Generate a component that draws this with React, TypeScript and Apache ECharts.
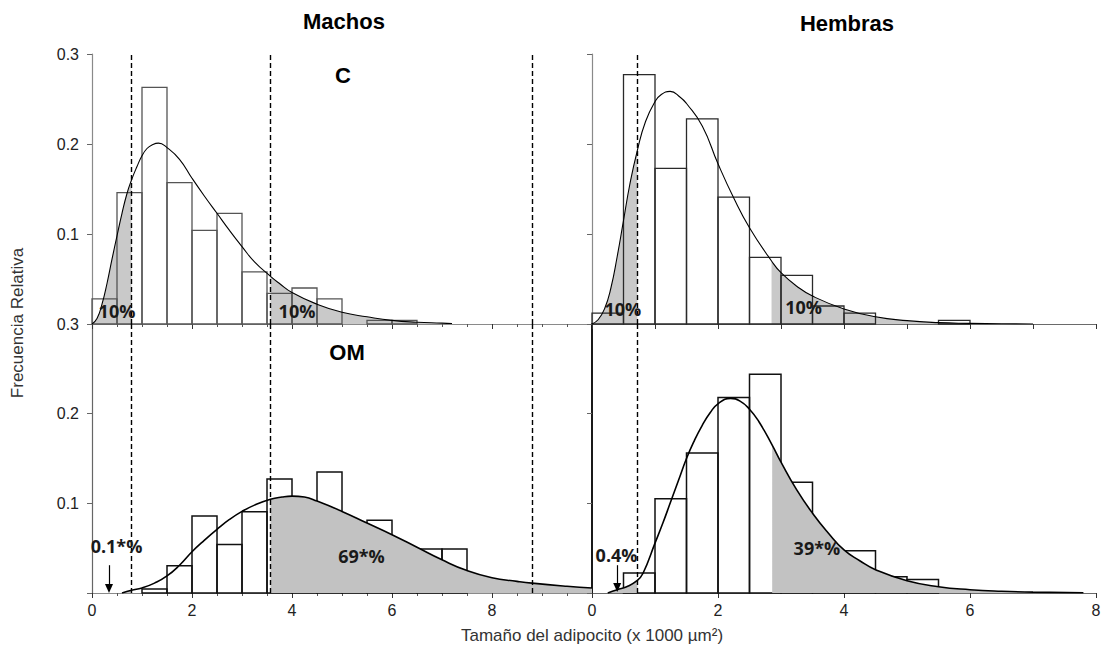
import React, { useEffect, useRef } from "react";
import * as echarts from "echarts";

// Histogram bins are 0.5 (x 1000 µm²) wide, starting at 0.
const BIN = 0.5;

// Relative frequency per bin
const machosCBars = [0.028, 0.146, 0.263, 0.157, 0.104, 0.123, 0.058, 0.034, 0.04, 0.028, 0, 0.004, 0.004];
const hembrasCBars = [0.012, 0.277, 0.173, 0.228, 0.141, 0.074, 0.054, 0.02, 0.012, 0, 0, 0.004];
const machosOMBars = [0, 0, 0.0045, 0.0305, 0.086, 0.054, 0.0905, 0.127, 0.098, 0.135, 0.075, 0.081, 0.05, 0.049, 0.049];
const hembrasOMBars = [0, 0.0223, 0.105, 0.156, 0.218, 0.244, 0.1236, 0.045, 0.047, 0.018, 0.015];

// Fitted density curves (x, relative frequency)
const machosCCurveX = [0, 0.1, 0.2, 0.3, 0.4, 0.5, 0.6, 0.7, 0.79, 0.9, 1.0, 1.1, 1.2, 1.33, 1.5, 1.75, 2.0, 2.25, 2.5, 2.75, 3.0, 3.25, 3.57, 3.75, 4.0, 4.5, 5.0, 5.5, 6.0, 6.5, 7.0, 7.2];
const machosCCurveY = [0, 0.006, 0.022, 0.045, 0.072, 0.098, 0.123, 0.145, 0.16, 0.175, 0.187, 0.195, 0.199, 0.201, 0.196, 0.183, 0.162, 0.142, 0.123, 0.104, 0.086, 0.069, 0.053, 0.045, 0.035, 0.022, 0.013, 0.008, 0.004, 0.002, 0.001, 0.0005];

const hembrasCCurveX = [0, 0.1, 0.2, 0.3, 0.4, 0.5, 0.6, 0.72, 0.85, 1.0, 1.1, 1.24, 1.4, 1.5, 1.75, 2.0, 2.25, 2.5, 2.85, 3.0, 3.25, 3.5, 4.0, 4.5, 5.0, 5.5, 6.0, 6.5, 7.0];
const hembrasCCurveY = [0, 0.005, 0.017, 0.04, 0.075, 0.115, 0.155, 0.193, 0.225, 0.247, 0.255, 0.2585, 0.252, 0.245, 0.22, 0.178, 0.14, 0.107, 0.07, 0.057, 0.042, 0.031, 0.0167, 0.008, 0.0037, 0.0015, 0.0007, 0.0002, 0];

const machosOMCurveX = [0.6, 0.79, 1.0, 1.25, 1.5, 1.75, 2.0, 2.25, 2.5, 2.75, 3.0, 3.25, 3.57, 3.8, 4.0, 4.25, 4.5, 5.0, 5.5, 6.0, 6.5, 7.0, 7.5, 8.0, 8.5, 8.8, 9.5, 10.0];
const machosOMCurveY = [0, 0.003, 0.0056, 0.011, 0.019, 0.031, 0.046, 0.059, 0.071, 0.082, 0.091, 0.098, 0.1045, 0.107, 0.108, 0.107, 0.1025, 0.091, 0.078, 0.065, 0.051, 0.037, 0.025, 0.017, 0.013, 0.011, 0.0075, 0.0055];

const hembrasOMCurveX = [0.25, 0.4, 0.55, 0.72, 0.81, 1.0, 1.125, 1.25, 1.375, 1.5, 1.625, 1.75, 1.875, 2.0, 2.2, 2.35, 2.5, 2.65, 2.86, 3.0, 3.25, 3.5, 3.75, 4.0, 4.25, 4.5, 5.0, 5.5, 6.0, 6.5, 7.0, 7.8];
const hembrasOMCurveY = [0, 0.0037, 0.007, 0.014, 0.022, 0.0556, 0.078, 0.102, 0.126, 0.15, 0.17, 0.187, 0.201, 0.211, 0.217, 0.214, 0.205, 0.191, 0.165, 0.146, 0.115, 0.089, 0.067, 0.048, 0.036, 0.026, 0.0137, 0.007, 0.0037, 0.0019, 0.001, 0.0002];

// Shaded tails under each curve [from, to]
const machosCShade = [[0, 0.79], [3.57, 7.2]];
const hembrasCShade = [[0, 0.72], [2.85, 7.0]];
const machosOMShade = [[0.6, 0.79], [3.57, 10]];
const hembrasOMShade = [[0.25, 0.72], [2.86, 7.8]];

// Cut-off thresholds (dashed)
const machosCutoffs = [0.79, 3.57, 8.8];
const hembrasCutoffs = [0.72];

// Percentage annotations
const machosCNotes = [
  { x: 0.5, y: 0.0148, text: "10%" },
  { x: 4.1, y: 0.0148, text: "10%" },
];
const hembrasCNotes = [
  { x: 0.49, y: 0.0167, text: "10%" },
  { x: 3.36, y: 0.019, text: "10%" },
];
const machosOMNotes = [
  { x: 0.49, y: 0.052, text: "0.1*%" },
  { x: 5.39, y: 0.041, text: "69*%" },
];
const hembrasOMNotes = [
  { x: 0.39, y: 0.042, text: "0.4%" },
  { x: 3.57, y: 0.0503, text: "39*%" },
];
const groupLabels = [
  { panel: 0, x: 5.02, y: 0.2756, text: "C" },
  { panel: 2, x: 5.1, y: 0.268, text: "OM" },
];

// Arrows marking the tiny lower tails
const machosOMArrow = { x: 0.34, from: 0.031, to: 0.005 };
const hembrasOMArrow = { x: 0.4, from: 0.031, to: 0.006 };

const AXIS_FONT = "'Liberation Sans', Arial, sans-serif";
const NOTE_FONT = "bold 18px 'Open Sans', 'Noto Sans', sans-serif";
const GRAY = "#c2c2c2";
const SMOOTH = 0.5;

type Panel = {
  idx: number;
  bars: number[];
  cx: number[];
  cy: number[];
  shade: number[][];
  cutoffs: number[];
  notes: { x: number; y: number; text: string }[];
  arrow?: { x: number; from: number; to: number };
  top: boolean;
};

function panelSeries(p: Panel): any[] {
  const pts = p.cx.map((x, i) => [x, p.cy[i]]);
  const barStroke = p.top ? (p.idx === 0 ? "#555" : "#2a2a2a") : "#111";
  const barWidth = p.top ? 1.3 : 1.5;
  const out: any[] = [];

  out.push({
    type: "custom",
    xAxisIndex: p.idx,
    yAxisIndex: p.idx,
    z: p.top ? 4 : 2,
    silent: true,
    encode: { x: [0, 1], y: 2 },
    data: p.bars
      .map((v, i) => [i * BIN, (i + 1) * BIN, v])
      .filter((d) => d[2] > 0),
    renderItem: (_params: any, api: any) => {
      const a = api.coord([api.value(0), api.value(2)]);
      const b = api.coord([api.value(1), 0]);
      return {
        type: "rect",
        shape: { x: a[0], y: a[1], width: b[0] - a[0], height: b[1] - a[1] },
        style: { fill: "none", stroke: barStroke, lineWidth: barWidth },
      };
    },
  });

  p.shade.forEach(([from, to]) => {
    out.push({
      type: "line",
      xAxisIndex: p.idx,
      yAxisIndex: p.idx,
      z: 3,
      silent: true,
      symbol: "none",
      smooth: SMOOTH,
      lineStyle: { width: 0 },
      areaStyle: { color: GRAY, opacity: p.top ? 0.88 : 1 },
      data: pts.filter((d) => d[0] >= from - 1e-9 && d[0] <= to + 1e-9),
    });
  });

  const markData: any[] = p.cutoffs.map((x) => ({ xAxis: x }));
  if (p.arrow) {
    markData.push([
      { coord: [p.arrow.x, p.arrow.from], symbol: "none", lineStyle: { type: "solid", width: 1.2, color: "#000" } },
      { coord: [p.arrow.x, p.arrow.to], symbol: "triangle", symbolSize: [8, 9] },
    ]);
  }

  out.push({
    type: "line",
    xAxisIndex: p.idx,
    yAxisIndex: p.idx,
    z: 5,
    silent: true,
    symbol: "none",
    smooth: SMOOTH,
    lineStyle: { color: "#000", width: p.top ? 1.1 : 1.6 },
    data: pts,
    markLine: {
      silent: true,
      symbol: ["none", "none"],
      label: { show: false },
      lineStyle: { type: [5, 3], color: "#000", width: 1.4 },
      data: markData,
    },
  });

  out.push({
    type: "custom",
    xAxisIndex: p.idx,
    yAxisIndex: p.idx,
    z: 6,
    silent: true,
    encode: { x: 0, y: 1 },
    data: p.notes.map((n) => [n.x, n.y]),
    renderItem: (params: any, api: any) => {
      const c = api.coord([api.value(0), api.value(1)]);
      const n = p.notes[params.dataIndex];
      return {
        type: "text",
        x: c[0],
        y: c[1],
        style: {
          text: n.text,
          font: NOTE_FONT,
          fill: "#1a1a1a",
          align: "center",
          verticalAlign: "middle",
          textAlign: "center",
          textVerticalAlign: "middle",
        },
      };
    },
  });

  return out;
}

function groupLabelSeries(): any[] {
  return groupLabels.map((g) => ({
    type: "custom",
    xAxisIndex: g.panel,
    yAxisIndex: g.panel,
    z: 6,
    silent: true,
    encode: { x: 0, y: 1 },
    data: [[g.x, g.y]],
    renderItem: (_params: any, api: any) => {
      const c = api.coord([api.value(0), api.value(1)]);
      return {
        type: "text",
        x: c[0],
        y: c[1],
        style: {
          text: g.text,
          font: `bold 22px ${AXIS_FONT}`,
          fill: "#000",
          align: "center",
          verticalAlign: "middle",
          textAlign: "center",
          textVerticalAlign: "middle",
        },
      };
    },
  }));
}

function makeXAxis(gridIndex: number, max: number, interval: number, labels: boolean, minor: boolean, lineColor: string) {
  return {
    type: "value",
    gridIndex,
    min: 0,
    max,
    interval,
    axisLine: { show: true, onZero: false, lineStyle: { color: lineColor, width: 1.2 } },
    axisTick: { show: true, length: 5, lineStyle: { color: "#333", width: 1 } },
    minorTick: { show: minor, splitNumber: 4, length: 3, lineStyle: { color: "#555", width: 1 } },
    splitLine: { show: false },
    minorSplitLine: { show: false },
    axisLabel: {
      show: labels,
      fontSize: 16,
      fontFamily: AXIS_FONT,
      color: "#222",
      margin: 9,
      formatter: (v: number) => (v === 10 ? "" : String(v)),
    },
  };
}

function makeYAxis(gridIndex: number, labels: boolean, lineColor: string, lineWidth: number) {
  return {
    type: "value",
    gridIndex,
    min: 0,
    max: 0.3,
    interval: 0.1,
    axisLine: { show: true, onZero: false, lineStyle: { color: lineColor, width: lineWidth } },
    axisTick: { show: true, length: 5, lineStyle: { color: "#666", width: 1 } },
    splitLine: { show: false },
    axisLabel: {
      show: labels,
      fontSize: 16,
      fontFamily: AXIS_FONT,
      color: "#222",
      margin: 13,
      formatter: (v: number) => (Math.abs(v) < 1e-9 ? "" : v.toFixed(1)),
    },
  };
}

export default function App() {
  const ref = useRef<HTMLDivElement>(null);

  useEffect(() => {
    document.body.style.margin = "0";
    if (!ref.current) return;
    const chart = echarts.init(ref.current, undefined, { renderer: "svg" });

    const panels: Panel[] = [
      { idx: 0, bars: machosCBars, cx: machosCCurveX, cy: machosCCurveY, shade: machosCShade, cutoffs: machosCutoffs, notes: machosCNotes, top: true },
      { idx: 1, bars: hembrasCBars, cx: hembrasCCurveX, cy: hembrasCCurveY, shade: hembrasCShade, cutoffs: hembrasCutoffs, notes: hembrasCNotes, top: true },
      { idx: 2, bars: machosOMBars, cx: machosOMCurveX, cy: machosOMCurveY, shade: machosOMShade, cutoffs: machosCutoffs, notes: machosOMNotes, arrow: machosOMArrow, top: false },
      { idx: 3, bars: hembrasOMBars, cx: hembrasOMCurveX, cy: hembrasOMCurveY, shade: hembrasOMShade, cutoffs: hembrasCutoffs, notes: hembrasOMNotes, arrow: hembrasOMArrow, top: false },
    ];

    const gridBase = { containLabel: false, outerBoundsMode: "none" };

    chart.setOption({
      animation: false,
      backgroundColor: "#fff",
      grid: [
        { ...gridBase, left: 92, top: 54, width: 500, height: 270 },
        { ...gridBase, left: 592, top: 54, width: 504, height: 270 },
        { ...gridBase, left: 92, top: 324, width: 500, height: 269 },
        { ...gridBase, left: 592, top: 324, width: 504, height: 269 },
      ],
      xAxis: [
        makeXAxis(0, 10, 2, false, true, "#8a8a8a"),
        makeXAxis(1, 8, 1, false, false, "#6a6a6a"),
        makeXAxis(2, 10, 2, true, true, "#8a8a8a"),
        makeXAxis(3, 8, 2, true, false, "#6a6a6a"),
      ],
      yAxis: [
        makeYAxis(0, true, "#8a8a8a", 1.2),
        makeYAxis(1, false, "#8a8a8a", 1.2),
        makeYAxis(2, true, "#666", 1.2),
        makeYAxis(3, false, "#000", 1.8),
      ],
      graphic: [
        {
          type: "text",
          x: 344,
          y: 21,
          style: { text: "Machos", font: `bold 22px ${AXIS_FONT}`, fill: "#000", textAlign: "center", textVerticalAlign: "middle", align: "center", verticalAlign: "middle" },
        },
        {
          type: "text",
          x: 847,
          y: 23,
          style: { text: "Hembras", font: `bold 22px ${AXIS_FONT}`, fill: "#000", textAlign: "center", textVerticalAlign: "middle", align: "center", verticalAlign: "middle" },
        },
        {
          type: "text",
          x: 17,
          y: 323,
          rotation: Math.PI / 2,
          style: { text: "Frecuencia Relativa", font: `17px ${AXIS_FONT}`, fill: "#333", textAlign: "center", textVerticalAlign: "middle", align: "center", verticalAlign: "middle" },
        },
        {
          type: "text",
          x: 592,
          y: 635,
          style: { text: "Tamaño del adipocito (x 1000 µm²)", font: `17px ${AXIS_FONT}`, fill: "#333", textAlign: "center", textVerticalAlign: "middle", align: "center", verticalAlign: "middle" },
        },
      ],
      series: [...panels.flatMap(panelSeries), ...groupLabelSeries()],
    });

    return () => chart.dispose();
  }, []);

  return <div ref={ref} style={{ width: 1101, height: 647 }} />;
}
